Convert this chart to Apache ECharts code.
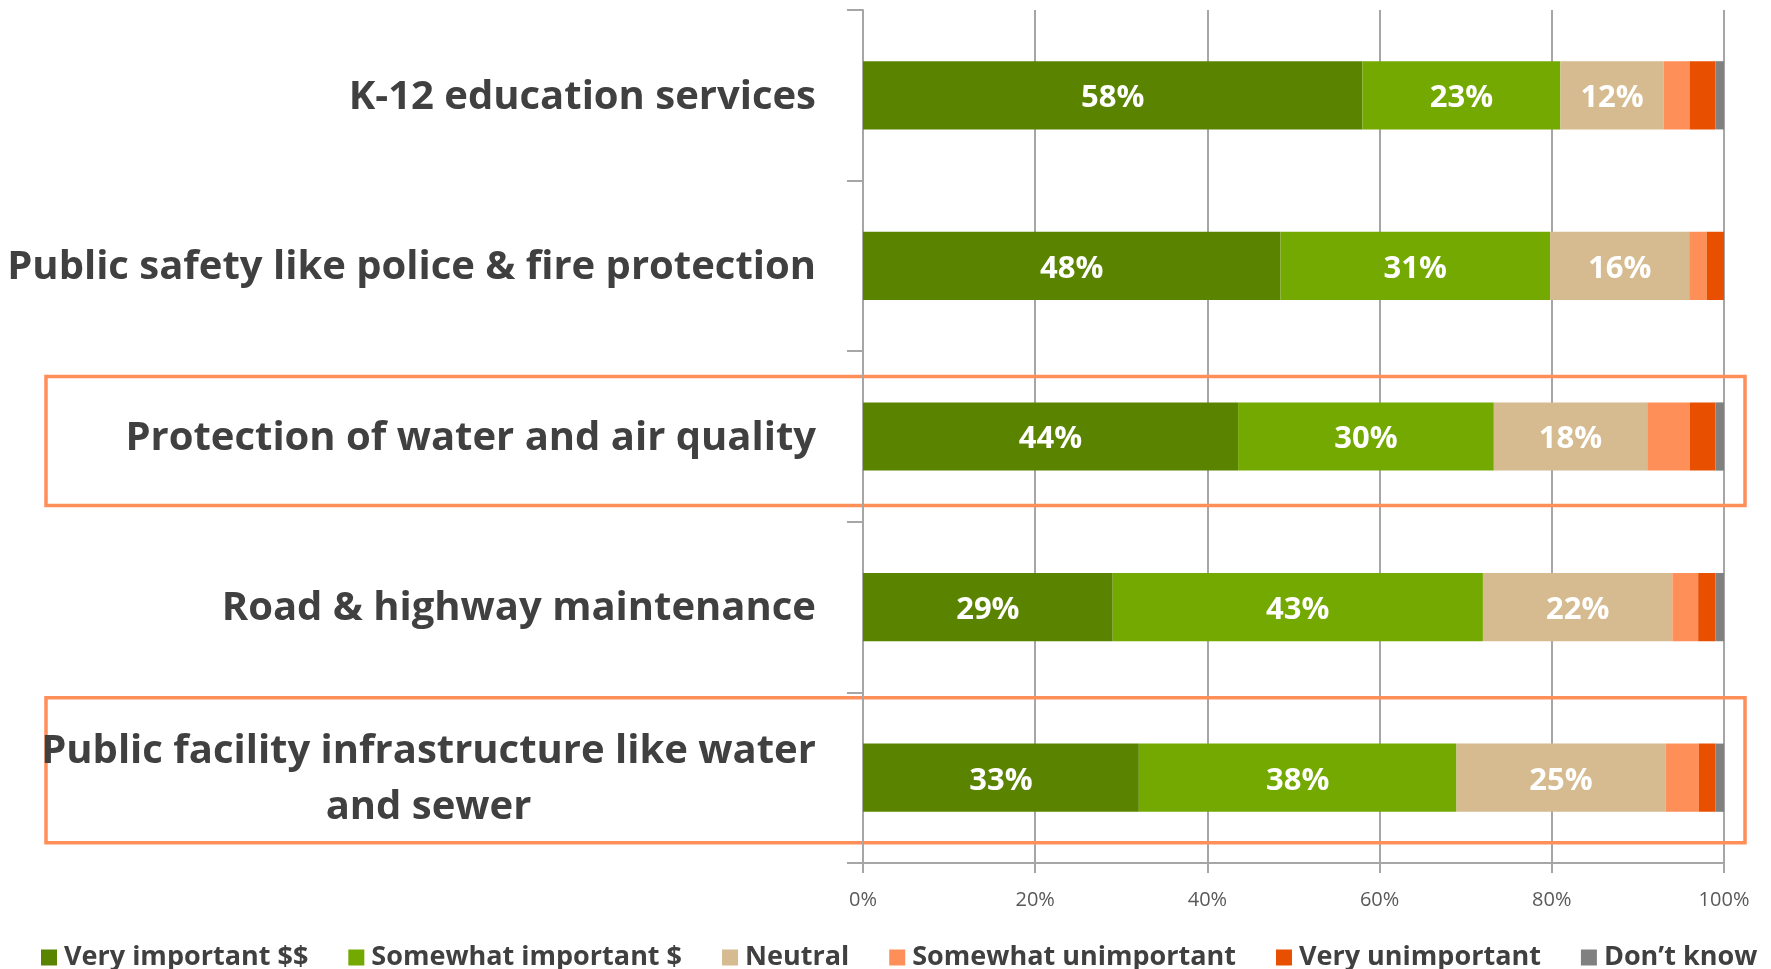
<!DOCTYPE html>
<html>
<head>
<meta charset="utf-8">
<title>Spending priorities</title>
<script src="https://cdn.jsdelivr.net/npm/echarts@6/dist/echarts.min.js"></script>
<style>
  html, body { margin: 0; padding: 0; background: #fff; }
  #chart { width: 1771px; height: 969px; }
</style>
</head>
<body>
<div id="chart"></div>
<script>
// categories, top to bottom
const categories = [
  'K-12 education services',
  'Public safety like police & fire protection',
  'Protection of water and air quality',
  'Road & highway maintenance',
  'Public facility infrastructure like water and sewer'
];
const highlighted = [
  'Protection of water and air quality',
  'Public facility infrastructure like water and sewer'
];

// survey answers in % (rows do not always add up to 100, bars are scaled to 100%)
const veryImportant      = [58, 48, 44, 29, 33];
const somewhatImportant  = [23, 31, 30, 43, 38];
const neutral            = [12, 16, 18, 22, 25];
const somewhatUnimportant = [3, 2, 5, 3, 4];
const veryUnimportant    = [3, 2, 3, 2, 2];
const dontKnow           = [1, 0, 1, 1, 1];

const seriesNames = ['Very important $$', 'Somewhat important $', 'Neutral',
  'Somewhat unimportant', 'Very unimportant', 'Don\u2019t know'];
const xTicks = [0, 20, 40, 60, 80, 100];

const raw = [veryImportant, somewhatImportant, neutral, somewhatUnimportant, veryUnimportant, dontKnow];
const colors = ['#5A8400', '#73A900', '#D5BB8F', '#FF8F59', '#E85000', '#808080'];
const totals = categories.map((_, j) => raw.reduce((s, arr) => s + arr[j], 0));

const FONT = '"Open Sans", "Noto Sans", sans-serif';
const labelSize = 40;

// width of the first line of the wrapped label, so the second line can be centered under it
const ctx = document.createElement('canvas').getContext('2d');
ctx.font = 'bold ' + labelSize + 'px ' + FONT;
const wrapFirst = 'Public facility infrastructure like water';
const wrapWidth = Math.ceil(ctx.measureText(wrapFirst).width);

const chart = echarts.init(document.getElementById('chart'));

const series = raw.map((arr, i) => ({
  name: seriesNames[i],
  type: 'bar',
  stack: 'total',
  barCategoryGap: '60%',
  itemStyle: { color: colors[i] },
  label: {
    show: i < 3,
    position: 'inside',
    offset: [0, 3],
    color: '#fff',
    fontFamily: FONT,
    fontWeight: 'bold',
    fontSize: 31,
    formatter: p => raw[i][p.dataIndex] + '%'
  },
  emphasis: { disabled: true },
  data: arr.map((v, j) => v / totals[j] * 100)
}));

chart.setOption({
  animation: false,
  color: colors,
  grid: { left: 863, right: 47, top: 10, bottom: 106 },
  xAxis: {
    type: 'value',
    min: 0,
    max: 100,
    interval: 20,
    axisLine: { show: true, lineStyle: { color: '#A6A6A6', width: 2 } },
    axisTick: { show: true, length: 10, lineStyle: { color: '#A6A6A6', width: 2 } },
    splitLine: { show: true, lineStyle: { color: '#A6A6A6', width: 2 } },
    axisLabel: {
      margin: 27,
      color: '#595959',
      fontFamily: FONT,
      fontSize: 20,
      formatter: v => xTicks.includes(v) ? v + '%' : ''
    }
  },
  yAxis: {
    type: 'category',
    inverse: true,
    data: categories,
    axisLine: { show: true, lineStyle: { color: '#A6A6A6', width: 2 } },
    axisTick: { show: true, length: 16, lineStyle: { color: '#A6A6A6', width: 2 } },
    axisLabel: {
      margin: 47,
      align: 'right',
      formatter: v => v === categories[4]
        ? '{c|' + wrapFirst + '}\n{c|and sewer}'
        : '{r|' + v + '}',
      rich: {
        r: { fontFamily: FONT, fontWeight: 'bold', fontSize: labelSize, color: '#404040', padding: [4, 0, 0, 0] },
        c: {
          fontFamily: FONT, fontWeight: 'bold', fontSize: labelSize, color: '#404040',
          width: wrapWidth, align: 'center', lineHeight: 56, padding: [4, 0, 0, 0]
        }
      }
    }
  },
  legend: {
    left: 36,
    top: 939,
    icon: 'rect',
    itemWidth: 16,
    itemHeight: 16,
    itemGap: 40,
    textStyle: { fontFamily: FONT, fontWeight: 'bold', fontSize: 27, color: '#404040', padding: [0, 0, 0, 2] },
    data: seriesNames
  },
  series: series
});

// orange frames around the highlighted categories
function drawFrames() {
  const offsets = { [highlighted[0]]: [-60, 69], [highlighted[1]]: [-80, 65] };
  const frames = highlighted.map(name => {
    const cy = chart.convertToPixel({ yAxisIndex: 0 }, name);
    const [up, down] = offsets[name];
    return {
      type: 'rect',
      silent: true,
      shape: { x: 46, y: cy + up, width: 1699, height: down - up },
      style: { fill: 'none', stroke: '#FF8F59', lineWidth: 3.5 }
    };
  });
  chart.setOption({ graphic: frames });
}
drawFrames();

window.addEventListener('resize', () => { chart.resize(); drawFrames(); });
</script>
</body>
</html>
